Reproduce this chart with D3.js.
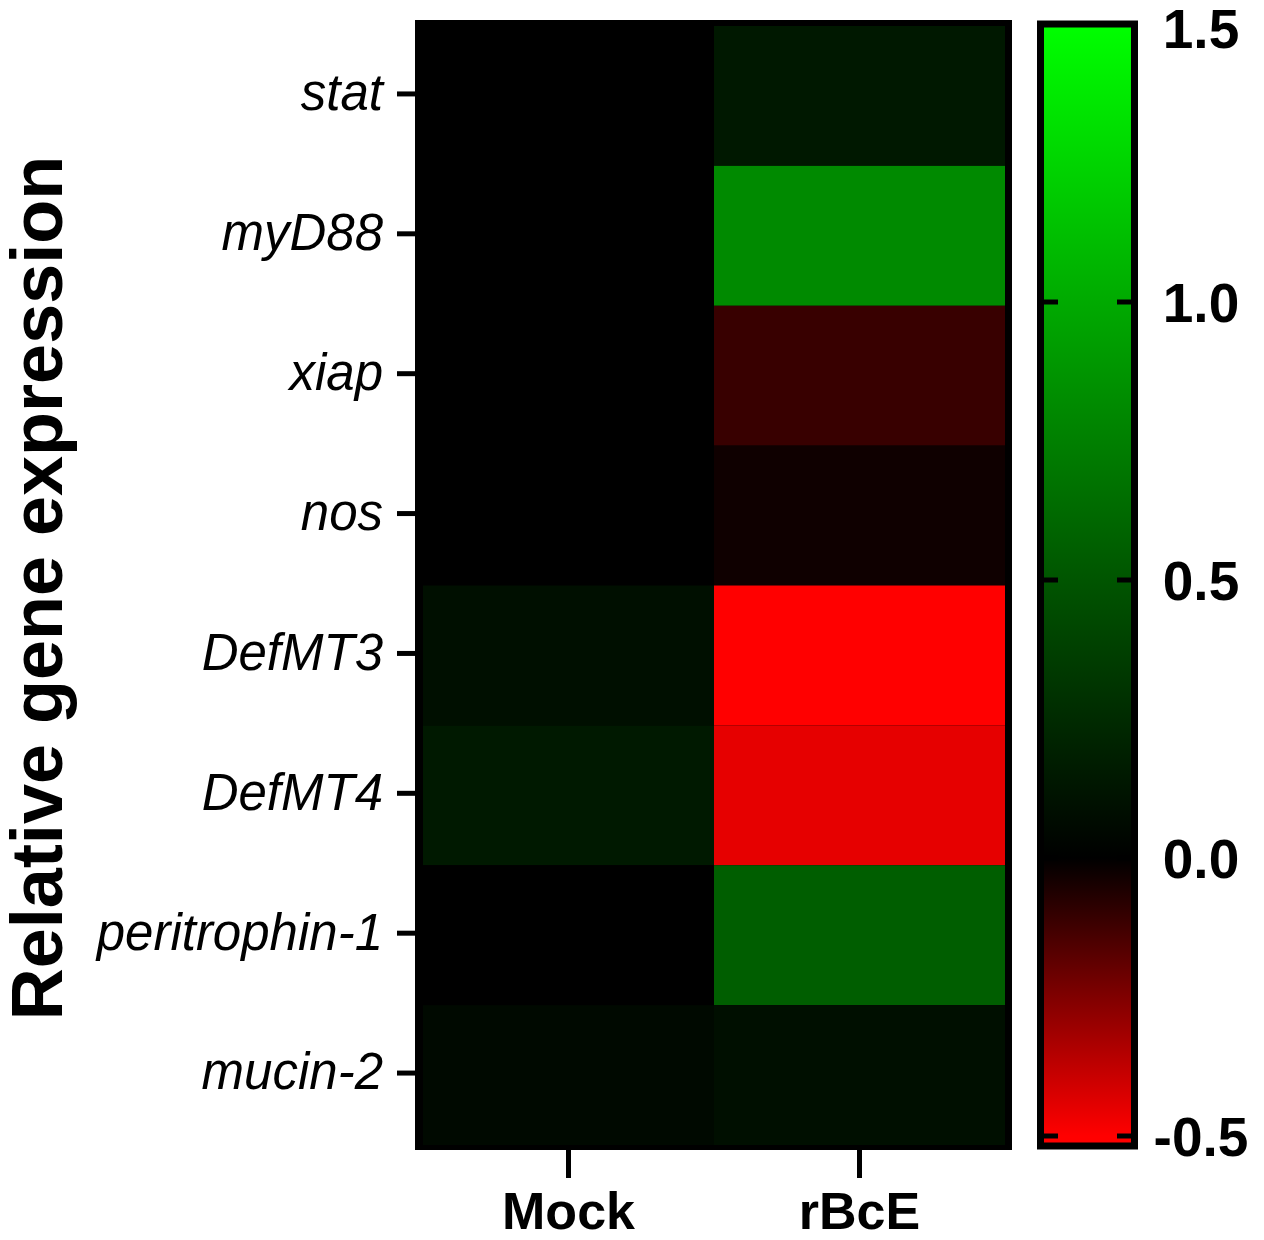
<!DOCTYPE html>
<html lang="en">
<head>
    <meta charset="UTF-8">
    <title>Relative gene expression heatmap</title>
    <script src="https://d3js.org/d3.v7.min.js"></script>
    <style>
        body { margin: 0; background: #fff; }
        text { font-family: "Liberation Sans", Arial, sans-serif; fill: #000; }
    </style>
</head>
<body>
<svg id="viz" width="1264" height="1240"></svg>

<script>
    // data
    var genes = ['stat', 'myD88', 'xiap', 'nos', 'DefMT3', 'DefMT4', 'peritrophin-1', 'mucin-2'];
    var groups = ['Mock', 'rBcE'];
    var mockValues = [0.0, 0.0, 0.0, 0.0, 0.09, 0.15, 0.0, 0.05];
    var rbceValues = [0.14, 0.81, -0.11, -0.03, -0.5, -0.45, 0.55, 0.09];
    var colorTicks = [1.5, 1.0, 0.5, 0.0, -0.5];
    var colorMarks = [1.0, 0.5, 0.0, -0.5];

    var cells = [];
    genes.forEach(function (g, i) {
        cells.push({gene: g, group: 'Mock', value: mockValues[i]});
        cells.push({gene: g, group: 'rBcE', value: rbceValues[i]});
    });

    var svg = d3.select('#viz');

    var x = d3.scaleBand().domain(groups).range([423, 1005]);
    var y = d3.scaleBand().domain(genes).range([26, 1145]);

    var color = d3.scaleLinear()
        .domain([-0.5, 0, 1.5])
        .range(['#ff0000', '#000000', '#00ff00'])
        .clamp(true);

    // heatmap frame
    svg.append('rect')
        .attr('x', 419).attr('y', 24)
        .attr('width', 589).attr('height', 1122)
        .attr('fill', '#000')
        .attr('stroke', '#000')
        .attr('stroke-width', 8);

    svg.selectAll('.cell')
        .data(cells)
        .enter()
        .append('rect')
        .attr('class', 'cell')
        .attr('x', function (d) { return x(d.group); })
        .attr('y', function (d) { return y(d.gene); })
        .attr('width', x.bandwidth())
        .attr('height', y.bandwidth())
        .attr('fill', function (d) { return color(d.value); });

    // y axis (gene names)
    var yAxis = svg.append('g')
        .attr('transform', 'translate(415,-2)')
        .call(d3.axisLeft(y).tickSize(18).tickPadding(14));
    yAxis.select('.domain').remove();
    yAxis.selectAll('line').attr('stroke', '#000').attr('stroke-width', 5);
    yAxis.selectAll('text')
        .style('font-size', '51px')
        .style('font-style', 'italic')
        .style('font-family', '"Liberation Sans", Arial, sans-serif');

    // x axis (groups)
    var xAxis = svg.append('g')
        .attr('transform', 'translate(0,1150)')
        .call(d3.axisBottom(x).tickSize(28).tickPadding(14));
    xAxis.select('.domain').remove();
    xAxis.selectAll('line').attr('stroke', '#000').attr('stroke-width', 5);
    xAxis.selectAll('text')
        .style('font-size', '52px')
        .style('font-weight', 'bold')
        .style('font-family', '"Liberation Sans", Arial, sans-serif');

    // y title
    svg.append('text')
        .attr('transform', 'translate(62,588) rotate(-90)')
        .attr('text-anchor', 'middle')
        .style('font-size', '72px')
        .style('font-weight', 'bold')
        .text('Relative gene expression');

    // colour bar
    var c = d3.scaleLinear().domain([-0.5, 1.5]).range([1136, 24]);

    var grad = svg.append('defs').append('linearGradient')
        .attr('id', 'cbar')
        .attr('gradientUnits', 'userSpaceOnUse')
        .attr('x1', 0).attr('x2', 0)
        .attr('y1', c(1.5)).attr('y2', c(-0.5));
    [1.5, 1.0, 0.5, 0.0, -0.25, -0.5].forEach(function (v) {
        grad.append('stop')
            .attr('offset', (1.5 - v) / 2)
            .attr('stop-color', color(v));
    });

    svg.append('rect')
        .attr('x', 1040.5).attr('y', 24)
        .attr('width', 94).attr('height', 1122)
        .attr('fill', 'url(#cbar)')
        .attr('stroke', '#000')
        .attr('stroke-width', 7);

    var marks = svg.append('g');
    colorMarks.forEach(function (v) {
        marks.append('line')
            .attr('x1', 1044).attr('x2', 1058)
            .attr('y1', c(v)).attr('y2', c(v))
            .attr('stroke', '#000').attr('stroke-width', 5);
        marks.append('line')
            .attr('x1', 1117).attr('x2', 1131)
            .attr('y1', c(v)).attr('y2', c(v))
            .attr('stroke', '#000').attr('stroke-width', 5);
    });

    svg.selectAll('.clabel')
        .data(colorTicks)
        .enter()
        .append('text')
        .attr('class', 'clabel')
        .attr('x', 1201)
        .attr('y', function (d) { return c(d) + (d === 1.5 ? 4 : 0); })
        .attr('dy', '0.36em')
        .attr('text-anchor', 'middle')
        .style('font-size', '55px')
        .style('font-weight', 'bold')
        .text(function (d) { return d.toFixed(1); });
</script>
</body>
</html>
